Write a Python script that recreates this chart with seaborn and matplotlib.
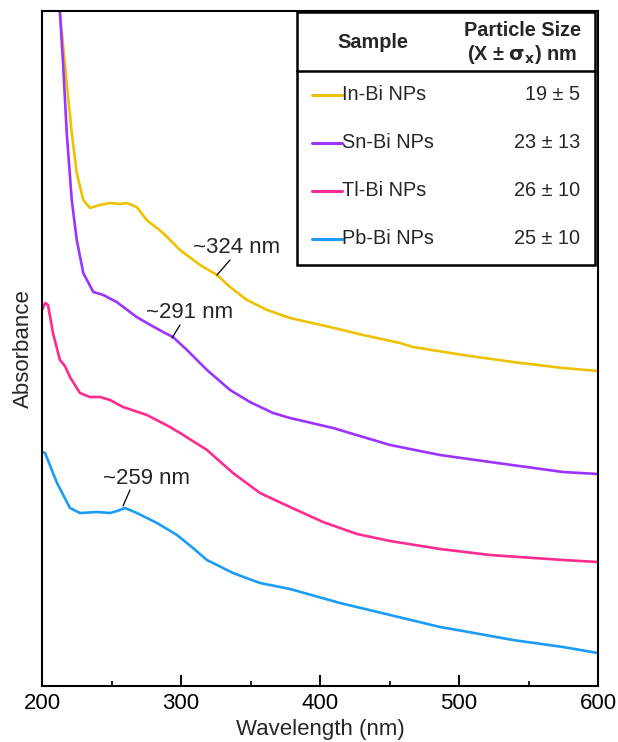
import numpy as np
import pandas as pd
import matplotlib
matplotlib.use("Agg")
import matplotlib.pyplot as plt
import seaborn as sns
from matplotlib.lines import Line2D
from matplotlib.patches import Rectangle

# UV-vis absorbance spectra (arbitrary units)
in_bi_nm = [210, 212.9, 217.8, 221.4, 225.0, 229.7, 234.5, 241.7, 248.9, 256.1, 260.9, 268.1,
            275.3, 287.1, 299.3, 313.7, 325.9, 335.3, 347.5, 361.9, 378.4, 407.2, 430.9,
            457.6, 466.9, 502.9, 538.8, 574.8, 600]
in_bi_abs = [7.5, 6.73, 6.03, 5.53, 5.13, 4.86, 4.78, 4.81, 4.83, 4.82, 4.83, 4.79,
             4.66, 4.53, 4.36, 4.21, 4.11, 3.99, 3.86, 3.76, 3.68, 3.59, 3.51,
             3.43, 3.39, 3.31, 3.24, 3.18, 3.15]

sn_bi_nm = [210, 212.9, 215.3, 217.8, 221.4, 225.0, 229.7, 236.9, 244.1, 253.7, 268.1,
            275.5, 287.1, 294.2, 304.3, 318.7, 335.3, 349.6, 366.2, 378.4, 409.4,
            450.4, 486.3, 522.3, 574.8, 600]
sn_bi_abs = [7.5, 6.74, 6.19, 5.53, 4.86, 4.46, 4.13, 3.94, 3.91, 3.84, 3.69,
             3.63, 3.54, 3.49, 3.36, 3.16, 2.96, 2.84, 2.73, 2.68, 2.58,
             2.41, 2.31, 2.24, 2.14, 2.12]

tl_bi_nm = [200, 202.2, 204.3, 207.9, 212.9, 216.5, 220.1, 227.3, 234.5, 241.7, 248.9, 258.3,
            275.5, 292.1, 299.3, 318.7, 337.4, 356.8, 378.4, 402.2, 426.6, 450.4,
            486.3, 522.3, 574.8, 600]
tl_bi_abs = [3.76, 3.83, 3.81, 3.53, 3.26, 3.20, 3.09, 2.93, 2.89, 2.89, 2.86, 2.79,
             2.71, 2.59, 2.53, 2.36, 2.13, 1.93, 1.79, 1.64, 1.52, 1.45,
             1.37, 1.31, 1.26, 1.24]

pb_bi_nm = [200, 202.2, 210.8, 220.1, 227.3, 239.6, 248.9, 254.0, 259.7, 268.3, 282.7, 297.1,
            308.6, 318.7, 337.4, 356.8, 378.4, 414.4, 450.4, 486.3, 502.9, 538.8,
            574.8, 600]
pb_bi_abs = [2.34, 2.33, 2.03, 1.78, 1.73, 1.74, 1.73, 1.75, 1.78, 1.73, 1.63, 1.51,
             1.38, 1.26, 1.13, 1.03, 0.97, 0.83, 0.71, 0.59, 0.55, 0.46,
             0.39, 0.33]

samples = ["In-Bi NPs", "Sn-Bi NPs", "Tl-Bi NPs", "Pb-Bi NPs"]
sizes = ["19 ± 5", "23 ± 13", "26 ± 10", "25 ± 10"]
colors = ["#EEC200", "#9B34FF", "#FF2B8F", "#1C9CF6"]

df = pd.concat([
    pd.DataFrame({"nm": in_bi_nm, "abs": in_bi_abs, "sample": samples[0]}),
    pd.DataFrame({"nm": sn_bi_nm, "abs": sn_bi_abs, "sample": samples[1]}),
    pd.DataFrame({"nm": tl_bi_nm, "abs": tl_bi_abs, "sample": samples[2]}),
    pd.DataFrame({"nm": pb_bi_nm, "abs": pb_bi_abs, "sample": samples[3]}),
])

sns.set_style("ticks")
plt.rcParams["font.family"] = ["Liberation Sans", "DejaVu Sans"]

fig = plt.figure(figsize=(6.18, 7.42), dpi=100)
ax = fig.add_axes([42 / 618, 56 / 742, 556 / 618, 675 / 742])

sns.lineplot(data=df, x="nm", y="abs", hue="sample", palette=dict(zip(samples, colors)),
             linewidth=1.9, legend=False, ax=ax, sort=False)

ax.set_xlim(200, 600)
ax.set_ylim(0, 6.75)
ax.set_xticks([200, 300, 400, 500, 600])
ax.set_xticks([250, 350, 450, 550], minor=True)
ax.set_yticks([])
ax.tick_params(axis="x", which="major", direction="in", length=8, width=1.4,
               labelsize=16, pad=5, colors="black")
ax.tick_params(axis="x", which="minor", direction="in", length=3.6, width=1.4)
for s in ax.spines.values():
    s.set_linewidth(1.5)
    s.set_color("black")
ax.set_xlabel("Wavelength (nm)", fontsize=16, labelpad=4)
ax.set_ylabel("Absorbance", fontsize=16, labelpad=6)

# peak annotations
ann = [("~324 nm", (325.9, 4.11), (335.3, 4.26), (340.3, 4.39)),
       ("~291 nm", (293.5, 3.48), (299.3, 3.61), (306.5, 3.73)),
       ("~259 nm", (258.3, 1.80), (263.3, 1.96), (275.5, 2.08))]
for label, p0, p1, pt in ann:
    ax.plot([p0[0], p1[0]], [p0[1], p1[1]], color="black", lw=0.9)
    ax.text(pt[0], pt[1], label, ha="center", va="center", fontsize=16)

# table legend (axes fraction coordinates)
def fx(px):
    return (px - 42) / 556

def fy(py):
    return (686 - py) / 675

box = Rectangle((fx(297), fy(265)), fx(595) - fx(297), fy(12) - fy(265),
                transform=ax.transAxes, facecolor="white", edgecolor="black",
                lw=1.8, zorder=5)
ax.add_patch(box)
ax.add_line(Line2D([fx(297), fx(595)], [fy(71), fy(71)], transform=ax.transAxes,
                   color="black", lw=1.8, zorder=6))
ax.text(fx(373), fy(43), "Sample", transform=ax.transAxes, ha="center", va="center",
        fontsize=14.3, fontweight="bold", zorder=6)
ax.text(fx(522), fy(30), "Particle Size", transform=ax.transAxes, ha="center",
        va="center", fontsize=14.3, fontweight="bold", zorder=6)
ax.text(fx(522), fy(55), r"(X ± $\mathbf{\sigma_x}$) nm", transform=ax.transAxes,
        ha="center", va="center", fontsize=14.3, fontweight="bold", zorder=6)

rows_y = [95, 143, 191, 239]
for name, size, col, ry in zip(samples, sizes, colors, rows_y):
    ax.add_line(Line2D([fx(312), fx(342)], [fy(ry), fy(ry)], transform=ax.transAxes,
                       color=col, lw=2.2, zorder=6))
    ax.text(fx(342), fy(ry), name, transform=ax.transAxes, ha="left", va="center",
            fontsize=14.3, zorder=6)
    ax.text(fx(580), fy(ry), size, transform=ax.transAxes, ha="right", va="center",
            fontsize=14.3, zorder=6)

fig.savefig("out.png", dpi=100)
